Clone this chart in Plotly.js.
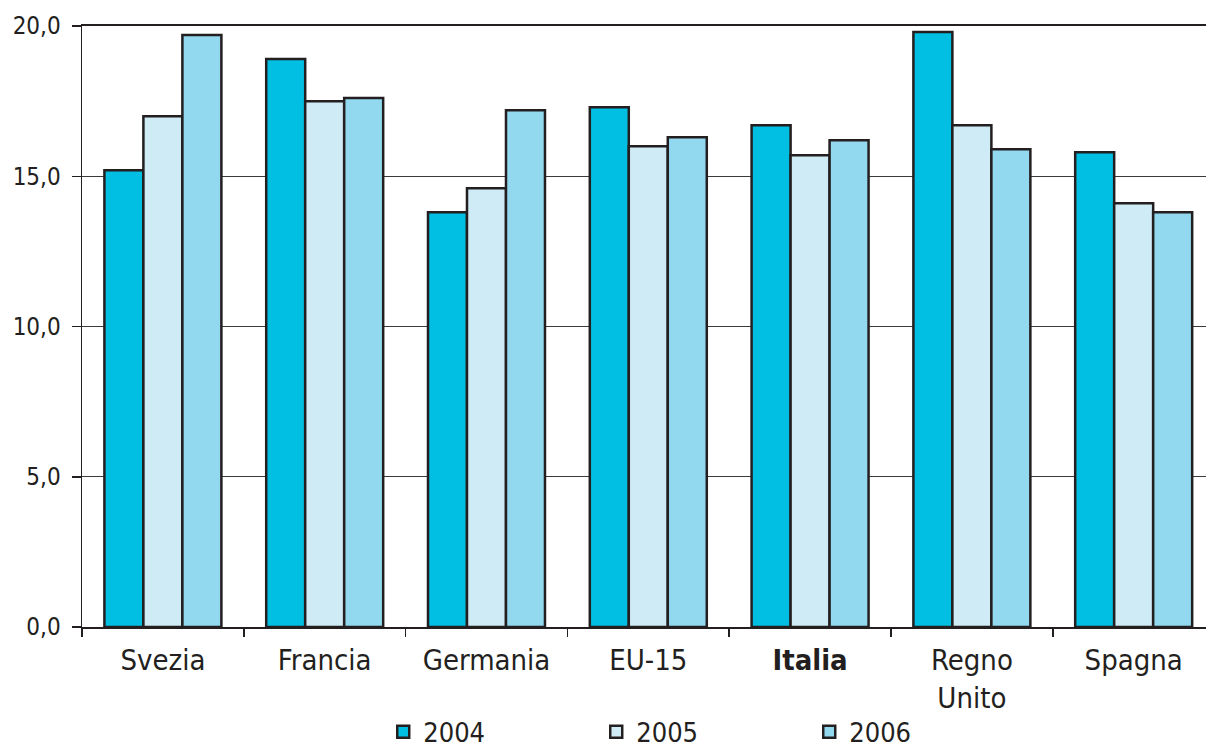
<!DOCTYPE html>
<html>
<head>
<meta charset="utf-8">
<script src="https://cdn.plot.ly/plotly-3.0.1.min.js"></script>
<style>html,body{margin:0;padding:0;background:#fff;}#chart{width:1206px;height:751px;}</style>
</head>
<body>
<div id="chart"></div>
<script>
const categories = ["Svezia", "Francia", "Germania", "EU-15", "<b>Italia</b>", "Regno<br>Unito", "Spagna"];
const seriesNames = ["2004", "2005", "2006"];
const values2004 = [15.2, 18.9, 13.8, 17.3, 16.7, 19.8, 15.8];
const values2005 = [17.0, 17.5, 14.6, 16.0, 15.7, 16.7, 14.1];
const values2006 = [19.7, 17.6, 17.2, 16.3, 16.2, 15.9, 13.8];
const yTicks = [0, 5, 10, 15, 20];

const colors = ["#00BFE2", "#CFEBF5", "#92D8EE"];
const allValues = [values2004, values2005, values2006];
const narrow = "DejaVu Sans Condensed, DejaVu Sans, sans-serif";

const traces = allValues.map((vals, i) => ({
  type: "bar",
  name: seriesNames[i],
  x: categories,
  y: vals,
  marker: { color: colors[i], line: { color: "#231F20", width: 2.5 } },
  hoverinfo: "skip"
}));

const layout = {
  width: 1206,
  height: 751,
  margin: { l: 82, r: 0, t: 26, b: 124, autoexpand: false },
  paper_bgcolor: "#fff",
  plot_bgcolor: "#fff",
  separators: ",.",
  barmode: "group",
  bargap: 0.277,
  bargroupgap: 0,
  showlegend: true,
  legend: {
    orientation: "h",
    x: 0.268,
    xanchor: "left",
    y: 0.025,
    yref: "container",
    yanchor: "middle",
    entrywidth: 168,
    entrywidthmode: "pixels",
    font: { family: narrow, size: 27, color: "#231F20" },
    bgcolor: "rgba(0,0,0,0)"
  },
  xaxis: {
    type: "category",
    range: [-0.5, 6.447],
    automargin: false,
    tickson: "boundaries",
    ticks: "outside",
    ticklen: 8,
    tickwidth: 1.5,
    tickcolor: "#231F20",
    ticklabelstandoff: 6,
    showline: true,
    mirror: true,
    linecolor: "#231F20",
    linewidth: 2,
    showgrid: false,
    tickfont: { family: narrow, size: 29, color: "#231F20" },
    fixedrange: true
  },
  yaxis: {
    range: [0, 20],
    automargin: false,
    tickvals: yTicks,
    tickformat: ".1f",
    ticks: "outside",
    ticklen: 9,
    tickwidth: 1.5,
    tickcolor: "#231F20",
    ticklabelstandoff: 6,
    showline: true,
    linecolor: "#231F20",
    linewidth: 1.5,
    showgrid: true,
    gridcolor: "#3a3a3a",
    gridwidth: 1,
    zeroline: false,
    tickfont: { family: narrow, size: 24, color: "#231F20" },
    fixedrange: true
  }
};

Plotly.newPlot("chart", traces, layout, { displayModeBar: false, staticPlot: true });
</script>
</body>
</html>
